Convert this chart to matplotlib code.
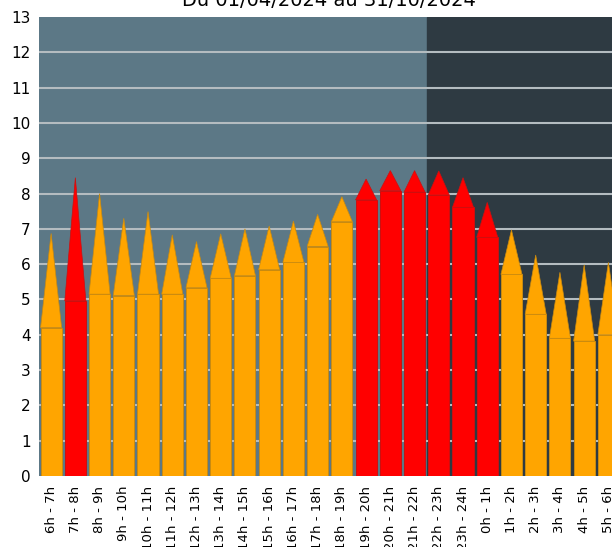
import numpy as np
import matplotlib
matplotlib.use('Agg')
from matplotlib import pyplot as plt
from matplotlib.patches import Polygon

labels = ['6h - 7h', '7h - 8h', '8h - 9h', '9h - 10h', '10h - 11h', '11h - 12h',
          '12h - 13h', '13h - 14h', '14h - 15h', '15h - 16h', '16h - 17h', '17h - 18h',
          '18h - 19h', '19h - 20h', '20h - 21h', '21h - 22h', '22h - 23h', '23h - 24h',
          '0h - 1h', '1h - 2h', '2h - 3h', '3h - 4h', '4h - 5h', '5h - 6h']
base_vals = [4.2, 4.96, 5.15, 5.11, 5.15, 5.15, 5.33, 5.6, 5.67, 5.84, 6.05, 6.5,
             7.2, 7.82, 8.08, 8.04, 7.96, 7.61, 6.76, 5.71, 4.58, 3.9, 3.82, 4.0]
peak_vals = [6.87, 8.45, 8.0, 7.3, 7.49, 6.83, 6.64, 6.86, 7.0, 7.08, 7.22, 7.41,
             7.91, 8.41, 8.65, 8.65, 8.64, 8.45, 7.75, 6.97, 6.26, 5.77, 5.98, 6.05]
is_red = [0, 1, 0, 0, 0, 0, 0, 0, 0, 0, 0, 0,
          0, 1, 1, 1, 1, 1, 1, 0, 0, 0, 0, 0]
title = 'Du 01/04/2024 au 31/10/2024'
night_start = 15.5


def main():
    fig = plt.figure(figsize=(6.12, 5.47), dpi=100)
    ax = fig.add_axes([39 / 612, 71 / 547, 581.5 / 612, 459 / 547])
    ax.set_facecolor('#5c7886')
    ax.axvspan(night_start, 24, color='#2e3a42', zorder=0)

    x = np.arange(len(labels))
    w = 0.87
    colors = ['#ff0000' if r else '#ffa500' for r in is_red]
    edges = ['#cc1010' if r else '#c98a10' for r in is_red]
    ax.bar(x, base_vals, width=w, color=colors, edgecolor=edges, linewidth=0.7, zorder=3)
    for xi, b, p, c, e in zip(x, base_vals, peak_vals, colors, edges):
        tri = Polygon([[xi - w / 2, b], [xi + w / 2, b], [xi, p]], closed=True,
                      facecolor=c, edgecolor=e, linewidth=0.5, zorder=3)
        ax.add_patch(tri)

    for yv in range(1, 13):
        ax.axhline(yv, color='#b4bcc0', linewidth=1.5, zorder=1)

    ax.set_xlim(-0.5, 23.5)
    ax.set_ylim(0, 13)
    ax.set_yticks(range(0, 14))
    ax.set_xticks(x)
    ax.set_xticklabels(labels, rotation=90, fontsize=9.5)
    ax.tick_params(axis='y', labelsize=11, length=0, pad=6)
    ax.tick_params(axis='x', length=0, pad=7)
    for s in ax.spines.values():
        s.set_visible(False)

    fig.text(329 / 612, 541 / 547, title, ha='center', va='baseline', fontsize=14)
    fig.savefig('out.png', dpi=100)


if __name__ == '__main__':
    main()
